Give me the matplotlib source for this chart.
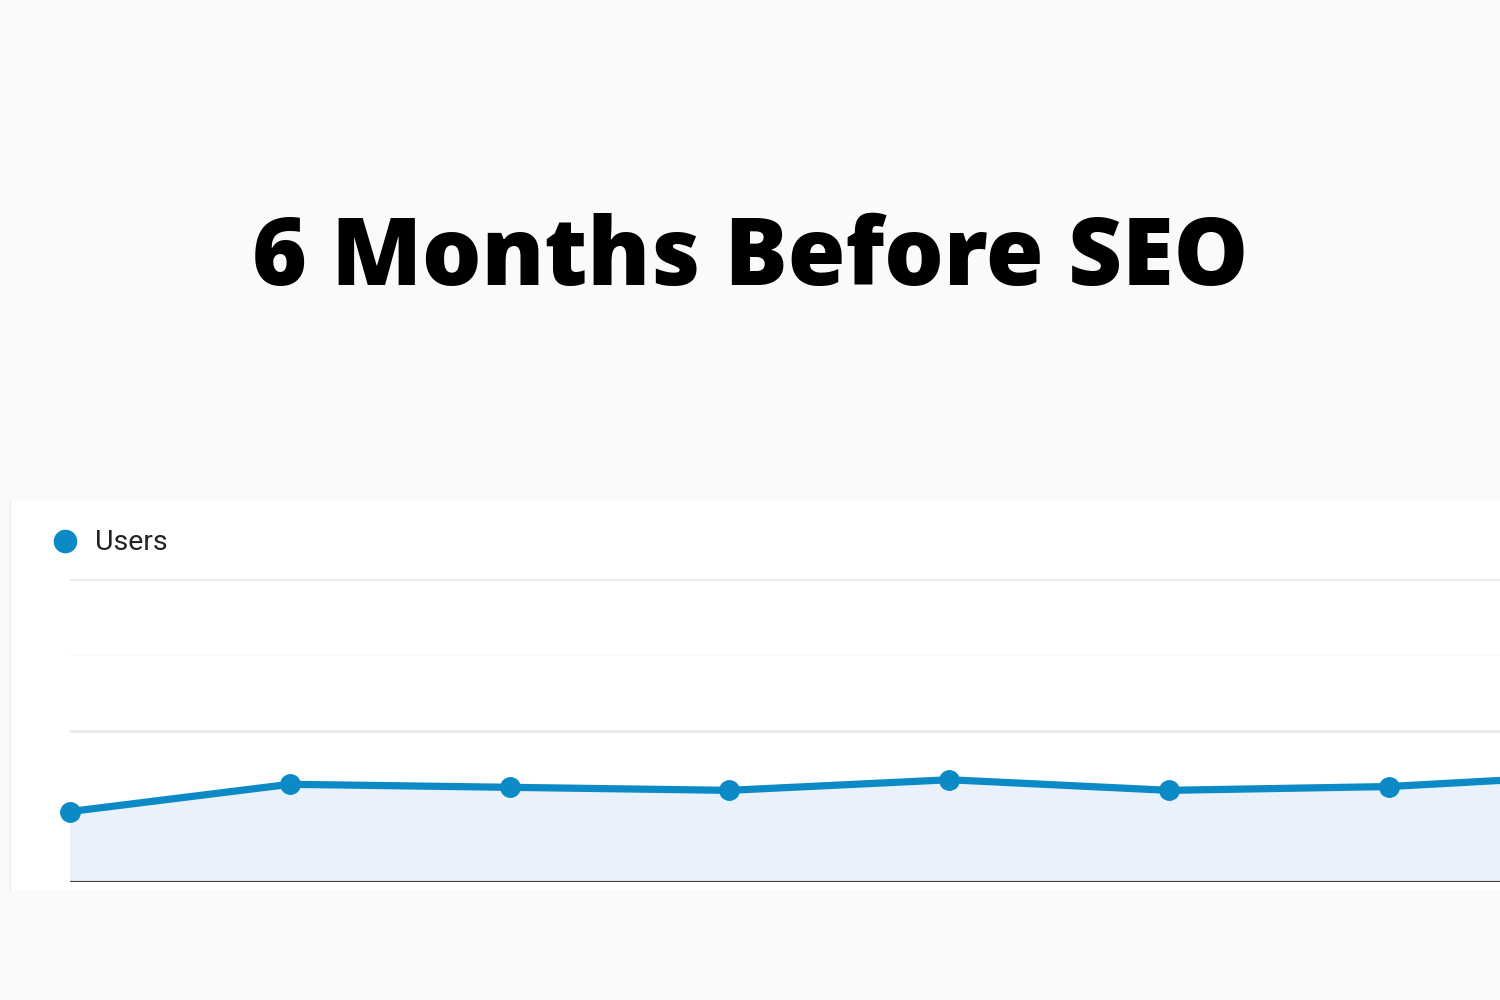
import matplotlib.pyplot as plt
from matplotlib.patches import Rectangle

# данные графика (Users по месяцам, последняя точка за краем)
points = [0, 1, 2, 3, 4, 5, 6, 7]
users = [4.65, 6.45, 6.25, 6.05, 6.75, 6.05, 6.3, 7.1]
grid_major = [10, 20]
grid_minor = [15]
title = '6 Months Before SEO'
legend_label = 'Users'

blue = '#0b8ac6'
fill = '#e9f1fa'

fig = plt.figure(figsize=(15, 10), dpi=100)
fig.patch.set_facecolor('#fafafa')

# белая панель графика
fig.patches.append(Rectangle((10 / 1500, 110 / 1000), 1490 / 1500, 390 / 1000,
                             transform=fig.transFigure, facecolor='white',
                             edgecolor='none', zorder=-5))
fig.add_artist(plt.Line2D([10 / 1500, 10 / 1500], [110 / 1000, 500 / 1000],
                          transform=fig.transFigure, color='#eeeeee', lw=1,
                          zorder=-4))

fig.text(0.5, 0.739, title, ha='center', va='center', fontsize=67.5,
         fontfamily='Open Sans', fontweight='heavy', color='black')

ax = fig.add_axes([70 / 1500, 118 / 1000, 1430 / 1500, 303 / 1000])
ax.set_facecolor('none')
ax.set_xlim(0, 1430 / 219.8)
ax.set_ylim(0, 20)
for s in ax.spines.values():
    s.set_visible(False)
ax.set_xticks([])
ax.set_yticks([])

for g in grid_major:
    ax.axhline(g, color='#e8e8e8', lw=1.8, zorder=1, xmin=-0.002)
for g in grid_minor:
    ax.axhline(g, color='#f8f8f8', lw=1.2, zorder=1)

ax.fill_between(points, users, 0, color=fill, zorder=2, lw=0)
ax.plot(points, users, color=blue, lw=5.2, marker='o', markersize=14,
        zorder=4, clip_on=False)
ax.axhline(0, color='#444444', lw=1.6, zorder=5)

# легенда
fig.add_artist(plt.Line2D([65 / 1500], [459 / 1000], transform=fig.transFigure,
                          marker='o', markersize=16, color=blue, lw=0))
fig.text(95 / 1500, 458 / 1000, legend_label, ha='left', va='center',
         fontsize=20.5, fontfamily='Roboto', color='#222222')

fig.savefig('out.png', dpi=100, facecolor=fig.get_facecolor())
